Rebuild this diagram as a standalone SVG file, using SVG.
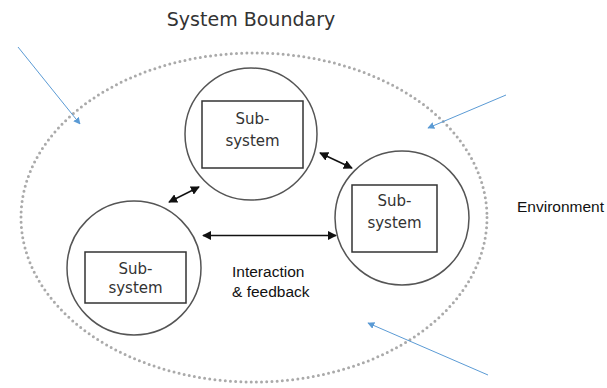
<svg xmlns="http://www.w3.org/2000/svg" width="607" height="388" viewBox="0 0 607 388">
<defs>
<marker id="ah" viewBox="0 0 10 10" refX="9" refY="5" markerWidth="9" markerHeight="9" markerUnits="userSpaceOnUse" orient="auto-start-reverse"><path d="M0,0 L10,5 L0,10 z" fill="#111"/></marker>
<marker id="bh" viewBox="0 0 10 10" refX="9" refY="5" markerWidth="7" markerHeight="7" markerUnits="userSpaceOnUse" orient="auto"><path d="M0,0 L10,5 L0,10 z" fill="#5b9bd5"/></marker>
</defs>
<style>
.sub{fill:#fff;stroke:#555;stroke-width:1.5}
.box{fill:#fff;stroke:#333;stroke-width:1.5}
.st{font-family:"DejaVu Sans",sans-serif;font-size:15px;fill:#333;text-anchor:middle}
.lbl{font-family:"Liberation Sans",Arial,sans-serif;font-size:15.5px;fill:#111}
.dbl{stroke:#111;stroke-width:1.5;fill:none;marker-start:url(#ah);marker-end:url(#ah)}
.env{stroke:#5b9bd5;stroke-width:1;fill:none;marker-end:url(#bh)}
</style>
<rect width="607" height="388" fill="#fff"/>
<g id="boundary">
<ellipse cx="254" cy="217.5" rx="233" ry="164.5" fill="none" stroke="#aaa" stroke-width="3" stroke-linecap="round" stroke-dasharray="0 5.2"/>
<text x="251" y="26" style="font-family:'DejaVu Sans',sans-serif;font-size:19px;fill:#333;text-anchor:middle">System Boundary</text>
</g>
<g id="subsystem-top">
<circle class="sub" cx="251" cy="134" r="66"/>
<rect class="box" x="202" y="101" width="101" height="67"/>
<text class="st" x="252.5" y="124">Sub-</text>
<text class="st" x="252.5" y="146">system</text>
</g>
<g id="subsystem-right">
<circle class="sub" cx="402" cy="218" r="67"/>
<rect class="box" x="352" y="185" width="85" height="67"/>
<text class="st" x="394.5" y="206">Sub-</text>
<text class="st" x="394.5" y="228">system</text>
</g>
<g id="subsystem-left">
<circle class="sub" cx="134" cy="268" r="67"/>
<rect class="box" x="85" y="252" width="101" height="51"/>
<text class="st" x="135.5" y="274">Sub-</text>
<text class="st" x="135.5" y="293">system</text>
</g>
<g id="connectors">
<line class="dbl" x1="169" y1="202" x2="199" y2="187"/>
<line class="dbl" x1="320" y1="153" x2="352" y2="168"/>
<line class="dbl" x1="203" y1="235.5" x2="336" y2="235.5"/>
<line class="env" x1="18" y1="47" x2="80" y2="124"/>
<line class="env" x1="506" y1="95" x2="428" y2="128"/>
<line class="env" x1="488" y1="375" x2="368" y2="323"/>
</g>
<g id="labels">
<text class="lbl" x="232" y="277">Interaction</text>
<text class="lbl" x="232" y="297">&amp; feedback</text>
<text class="lbl" x="517" y="212">Environment</text>
</g>
</svg>
